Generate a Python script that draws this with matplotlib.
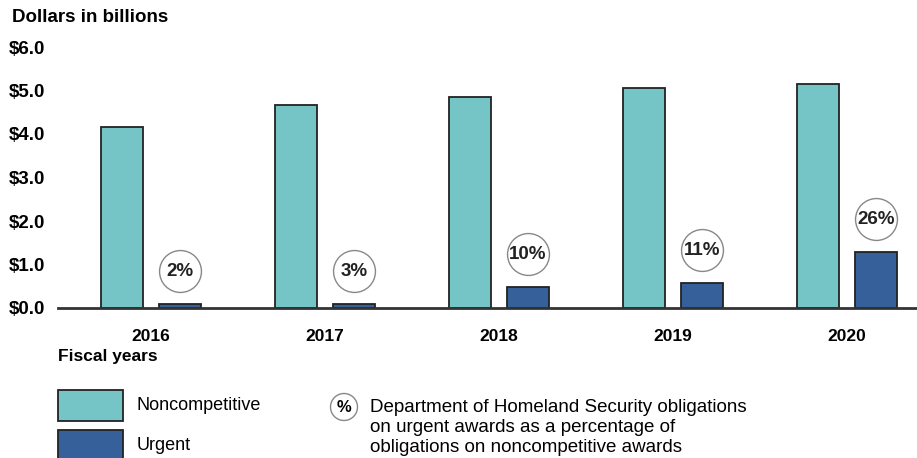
import matplotlib
matplotlib.use("Agg")
import matplotlib.pyplot as plt
import numpy as np
from matplotlib.patches import Rectangle, Ellipse

plt.rcParams['font.family'] = ['Liberation Sans', 'DejaVu Sans']

years = ["2016", "2017", "2018", "2019", "2020"]
noncompetitive = [4.17, 4.67, 4.86, 5.06, 5.16]
urgent = [0.09, 0.10, 0.49, 0.58, 1.29]
pct_labels = ["2%", "3%", "10%", "11%", "26%"]
yticks = [0, 1, 2, 3, 4, 5, 6]
ytick_labels = ["$0.0", "$1.0", "$2.0", "$3.0", "$4.0", "$5.0", "$6.0"]
note_lines = ["Department of Homeland Security obligations",
              "on urgent awards as a percentage of",
              "obligations on noncompetitive awards"]

teal = "#75c5c7"
navy = "#35609a"
edge = "#222222"

W, H = 917, 458
fig = plt.figure(figsize=(W / 100, H / 100), dpi=100)

def fx(px):
    return px / W

def fy(py):
    return 1 - py / H

ax = fig.add_axes([fx(58), fy(308), fx(916 - 58), (308 - 47) / H])
x = np.arange(len(years))
bw = 0.241
off = 0.1667
ax.bar(x - off, noncompetitive, bw, color=teal, edgecolor=edge, linewidth=1.3, zorder=3)
ax.bar(x + off, urgent, bw, color=navy, edgecolor=edge, linewidth=1.3, zorder=3)

# percentage circles above urgent bars
for i, v in enumerate(urgent):
    cy = v + 0.75
    ax.scatter(x[i] + off, cy, s=910, facecolor="white", edgecolor="#888888",
               linewidth=1.0, zorder=4)
    ax.text(x[i] + off, cy, pct_labels[i], ha="center", va="center",
            fontsize=13.5, fontweight="bold", color="#222222", zorder=5)

ax.set_xlim(-0.534, 4.397)
ax.set_ylim(0, 6)
ax.set_yticks(yticks)
ax.set_yticklabels(ytick_labels, fontsize=13.5, fontweight="bold")
ax.set_xticks(x)
ax.set_xticklabels(years, fontsize=12.5, fontweight="bold")
ax.tick_params(axis="y", length=0, pad=9)
ax.tick_params(axis="x", length=0, pad=15)
for s in ["top", "right", "left"]:
    ax.spines[s].set_visible(False)
ax.spines["bottom"].set_linewidth(2)
ax.spines["bottom"].set_color("#333333")
ax.spines["bottom"].set_zorder(6)

fig.text(fx(12), fy(18), "Dollars in billions", fontsize=13.5, fontweight="bold",
         ha="left", va="center")
fig.text(fx(58), fy(357), "Fiscal years", fontsize=12.5, fontweight="bold",
         ha="left", va="center")

# legend
fig.patches.append(Rectangle((fx(58), fy(421)), fx(123 - 58), (421 - 390) / H,
                             transform=fig.transFigure, facecolor=teal,
                             edgecolor=edge, linewidth=1.3))
fig.patches.append(Rectangle((fx(58), fy(462)), fx(123 - 58), (462 - 430) / H,
                             transform=fig.transFigure, facecolor=navy,
                             edgecolor=edge, linewidth=1.3))
fig.text(fx(137), fy(406), "Noncompetitive", fontsize=13, ha="left", va="center")
fig.text(fx(137), fy(446), "Urgent", fontsize=13, ha="left", va="center")

fig.patches.append(Ellipse((fx(344), fy(407)), fx(27), 27 / H,
                           transform=fig.transFigure, facecolor="white",
                           edgecolor="#888888", linewidth=1.0))
fig.text(fx(344), fy(407), "%", fontsize=12, fontweight="bold", ha="center", va="center")
for k, line in enumerate(note_lines):
    fig.text(fx(370), fy(408 + 20 * k), line, fontsize=13.5, ha="left", va="center")

fig.savefig("out.png", dpi=100)
